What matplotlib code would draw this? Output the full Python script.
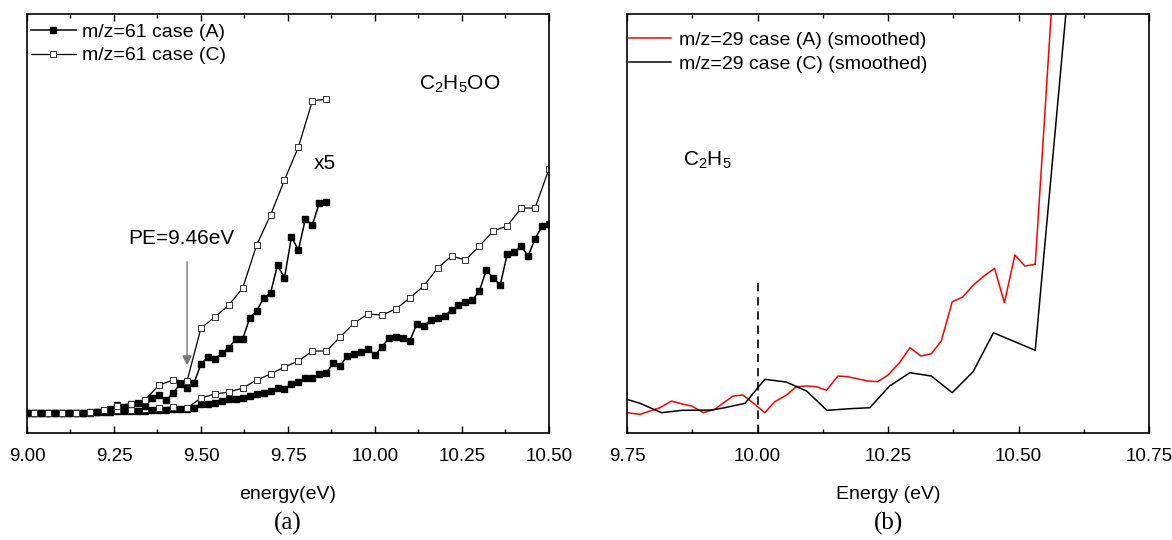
import numpy as np
import matplotlib
matplotlib.use('Agg')
import matplotlib.pyplot as plt
from matplotlib.ticker import MultipleLocator

plt.rcParams['font.family'] = ['Liberation Sans', 'DejaVu Sans']
plt.rcParams['mathtext.default'] = 'regular'

# ---- panel (a): m/z=61 signal (arb. units) ----
energy_A = np.linspace(9.00, 10.50, 76)      # 0.02 eV steps
signal_A = [20, 20, 20, 20, 20, 20, 20, 20, 20, 20.5,
            21, 21, 21.5, 22, 22, 22, 22.5, 22.5, 23, 23,
            23.5, 24, 24, 24, 25.5, 29, 29, 30, 32, 34,
            34, 35, 37, 39, 40, 42, 45, 44, 49, 51,
            55, 55, 59, 60, 70, 67, 77, 79, 81, 84,
            78, 86, 95, 96, 95, 92, 109, 107, 113, 115,
            117, 123, 128, 131, 133, 142, 163, 155, 148, 179,
            181, 187, 177, 194, 207, 209]

energy_C = np.linspace(9.02, 10.50, 38)      # 0.04 eV steps
signal_C = [20, 20, 20, 20, 20.5, 22, 23, 23.5, 24, 25,
            26, 25, 35, 39, 41, 45, 53, 59, 66, 72,
            82, 82, 96, 110, 119, 118, 124, 135, 147, 165,
            177, 173, 187, 202, 207, 225, 225, 264]

# x5 magnified traces
energy_A5 = np.linspace(9.00, 9.86, 44)
signal_A5 = [20, 20, 20, 20, 20, 20, 20, 20.5, 20.5, 21,
             21, 22, 24, 28, 26, 29, 30, 27, 35, 38,
             33, 40, 49, 45, 50, 69, 76, 74, 80, 85,
             94, 94, 115, 122, 135, 140, 168, 155, 196, 183,
             214, 208, 230, 231]

energy_C5 = np.linspace(9.02, 9.86, 22)
signal_C5 = [20, 20, 20, 20.5, 21, 23.5, 27, 29.5, 33.5, 48,
             53, 52, 105, 116, 128, 145, 188, 218, 253, 286,
             332, 334]

# ---- panel (b): m/z=29 smoothed signal (arb. units) ----
energy_29A = [9.75, 9.775, 9.813, 9.835, 9.858, 9.874, 9.896, 9.918, 9.953, 9.972,
              9.991, 10.014, 10.033, 10.055, 10.074, 10.094, 10.113, 10.132, 10.154, 10.173,
              10.196, 10.211, 10.230, 10.250, 10.272, 10.292, 10.313, 10.333, 10.352, 10.373,
              10.393, 10.415, 10.434, 10.454, 10.473, 10.493, 10.512, 10.532, 10.57]
signal_29A = [20.3, 18.7, 25.3, 32, 28.7, 27, 20.3, 23.7, 37, 38,
              30.3, 20.3, 31.3, 37.7, 46.3, 47, 46.3, 42.7, 57, 56.3,
              53.7, 52, 51.3, 58, 70.3, 85.3, 77, 79.3, 92, 131.3,
              136, 148.7, 157, 164.7, 130.3, 178, 167, 168.7, 480]

energy_29C = [9.75, 9.775, 9.816, 9.855, 9.912, 9.937, 9.976, 10.014, 10.055, 10.094,
              10.133, 10.176, 10.215, 10.253, 10.292, 10.333, 10.373, 10.413, 10.452, 10.532,
              10.61]
signal_29C = [33.7, 29.7, 20.3, 22.7, 23, 25.3, 29.7, 53.7, 51, 42,
              22.7, 24.3, 25.3, 47, 60.3, 57, 40.3, 61.3, 100.3, 82.7,
              530]

ticks_a = [9.00, 9.25, 9.50, 9.75, 10.00, 10.25, 10.50]
ticks_b = [9.75, 10.00, 10.25, 10.50, 10.75]
pe_energy = 9.46
ie_energy = 10.00

fig = plt.figure(figsize=(11.72, 5.4), dpi=100)
ax1 = fig.add_axes([0.0230, 0.1981, 0.4454, 0.7759])
ax2 = fig.add_axes([0.5350, 0.1981, 0.4454, 0.7759])

style_A = dict(color='black', lw=1.1, marker='s', ms=4.3, mfc='black', mec='black')
style_C = dict(color='black', lw=0.9, marker='s', ms=4.5, mfc='white', mec='#333333', mew=0.7)

ax1.plot(energy_A, signal_A, label='m/z=61 case (A)', **style_A)
ax1.plot(energy_C, signal_C, label='m/z=61 case (C)', **style_C)
ax1.plot(energy_A5, signal_A5, **style_A)
ax1.plot(energy_C5, signal_C5, **style_C)

ax1.text(10.126, 349, 'C$_2$H$_5$OO', fontsize=15, ha='left', va='center')
ax1.text(9.823, 270, 'x5', fontsize=15, ha='left', va='center')
ax1.text(9.291, 195, 'PE=9.46eV', fontsize=15, ha='left', va='center')
ax1.annotate('', xy=(pe_energy, 65), xytext=(pe_energy, 174),
             arrowprops=dict(arrowstyle='-|>', color='#777777', lw=1.0,
                             mutation_scale=14))

ax2.plot(energy_29A, signal_29A, color='red', lw=1.1, label='m/z=29 case (A) (smoothed)')
ax2.plot(energy_29C, signal_29C, color='black', lw=1.1, label='m/z=29 case (C) (smoothed)')
ax2.vlines(ie_energy, 0, 150, colors='black', linestyles=(0, (5, 3.5)), lw=1.2)
ax2.text(9.857, 273, 'C$_2$H$_5$', fontsize=15, ha='left', va='center')

for ax, ticks, lim in [(ax1, ticks_a, (9.0, 10.5)), (ax2, ticks_b, (9.75, 10.75))]:
    ax.set_xlim(*lim)
    ax.set_ylim(0, 419)
    ax.set_xticks(ticks)
    ax.set_xticklabels(['%.2f' % t for t in ticks])
    ax.xaxis.set_minor_locator(MultipleLocator(0.125))
    ax.set_yticks([])
    ax.tick_params(which='both', direction='in', top=True, bottom=True, labelsize=13.5, width=1.0)
    ax.tick_params(which='major', length=5, pad=11)
    ax.tick_params(which='minor', length=3)
    for s in ax.spines.values():
        s.set_linewidth(1.2)

ax1.set_xlabel('energy(eV)', fontsize=14, labelpad=15)
ax2.set_xlabel('Energy (eV)', fontsize=14, labelpad=15)
fig.text(0.2457, 1 - 523 / 540, '(a)', fontsize=18, family='Liberation Serif', ha='center', va='center')
fig.text(0.7577, 1 - 523 / 540, '(b)', fontsize=18, family='Liberation Serif', ha='center', va='center')

ax1.legend(loc='upper left', bbox_to_anchor=(0.008, 0.978), frameon=False, fontsize=14,
           handlelength=2.3, handletextpad=0.3, labelspacing=0.3, borderpad=0, borderaxespad=0)
ax2.legend(loc='upper left', bbox_to_anchor=(0.003, 0.958), frameon=False, fontsize=14,
           handlelength=2.2, handletextpad=0.4, labelspacing=0.3, borderpad=0, borderaxespad=0)

fig.savefig('out.png', dpi=100)
